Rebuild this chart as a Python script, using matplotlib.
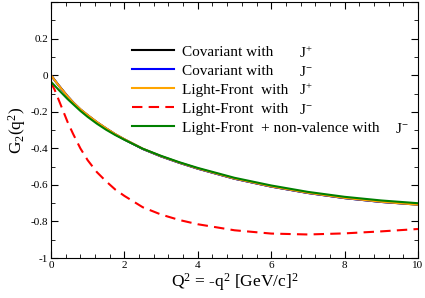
import matplotlib
matplotlib.use("Agg")
import matplotlib.pyplot as plt
from matplotlib.ticker import MultipleLocator, FuncFormatter

plt.rcParams['font.family'] = ['Liberation Serif', 'DejaVu Serif']
plt.rcParams['mathtext.fontset'] = 'custom'
plt.rcParams['mathtext.rm'] = 'Liberation Serif'
plt.rcParams['mathtext.it'] = 'Liberation Serif'

q2 = [0, 0.1, 0.2, 0.3, 0.45, 0.6, 0.8, 1.0, 1.25, 1.5, 1.75, 2.0, 2.5, 3.0, 3.5, 4, 5, 6, 7, 8, 9, 10]

cov_jplus = [0.0, -0.027, -0.053, -0.078, -0.115, -0.148, -0.187, -0.219, -0.257, -0.291, -0.323, -0.351, -0.403, -0.444, -0.479, -0.511, -0.566, -0.609, -0.644, -0.672, -0.693, -0.708]
cov_jminus = [0.0, -0.027, -0.053, -0.078, -0.115, -0.148, -0.187, -0.219, -0.257, -0.291, -0.323, -0.351, -0.403, -0.444, -0.479, -0.511, -0.566, -0.609, -0.644, -0.672, -0.693, -0.707]
lf_jplus = [0.0, -0.027, -0.053, -0.078, -0.115, -0.148, -0.186, -0.218, -0.256, -0.290, -0.322, -0.350, -0.402, -0.443, -0.478, -0.510, -0.565, -0.608, -0.643, -0.671, -0.692, -0.708]
lf_jminus = [-0.04, -0.08, -0.13, -0.18, -0.255, -0.32, -0.40, -0.465, -0.53, -0.58, -0.625, -0.66, -0.722, -0.762, -0.792, -0.815, -0.848, -0.866, -0.871, -0.865, -0.854, -0.841]
lf_nonval = [-0.036, -0.057, -0.078, -0.099, -0.130, -0.158, -0.195, -0.228, -0.265, -0.298, -0.327, -0.353, -0.402, -0.441, -0.476, -0.507, -0.561, -0.603, -0.638, -0.665, -0.685, -0.700]

labels = ['Covariant with', 'Covariant with', 'Light-Front  with', 'Light-Front  with',
          'Light-Front  + non-valence with']
currents = ['J$^{+}$', 'J$^{-}$', 'J$^{+}$', 'J$^{-}$', 'J$^{-}$']

fig = plt.figure(figsize=(4.25, 2.98), dpi=100)
ax = fig.add_axes([0.12, 0.134, 0.8635, 0.859])

ax.plot(q2, cov_jplus, color='black', lw=1.5, label=labels[0])
ax.plot(q2, cov_jminus, color='blue', lw=1.5, label=labels[1])
ax.plot(q2, lf_jplus, color='orange', lw=1.5, label=labels[2])
ax.plot(q2, lf_jminus, color='red', lw=1.5, ls=(0, (5, 3)), label=labels[3])
ax.plot(q2, lf_nonval, color='green', lw=1.5, label=labels[4])

ax.set_xlim(0, 10)
ax.set_ylim(-1, 0.4)
ax.xaxis.set_major_locator(MultipleLocator(2))
ax.xaxis.set_minor_locator(MultipleLocator(0.4))
ax.yaxis.set_major_locator(MultipleLocator(0.2))
ax.yaxis.set_minor_locator(MultipleLocator(0.1))

def fmt(v, pos):
    if abs(v - 0.4) < 1e-6:
        return ''
    if abs(v) < 1e-9:
        return '0'
    if abs(v - round(v)) < 1e-9:
        return '%d' % round(v)
    return ('%.1f' % v)

ax.xaxis.set_major_formatter(FuncFormatter(fmt))
ax.yaxis.set_major_formatter(FuncFormatter(fmt))
ax.tick_params(which='both', direction='in', top=True, right=True, labelsize=8, pad=2)
ax.tick_params(which='major', length=5)
ax.tick_params(which='minor', length=3)

ax.set_xlabel('Q$^2$ = -q$^2$ [GeV/c]$^2$', fontsize=12.5, labelpad=1)
ax.set_ylabel('G$_2$(q$^2$)', fontsize=12.5, labelpad=2)

leg = ax.legend(loc='upper left', bbox_to_anchor=(0.222, 0.833), frameon=False, fontsize=11,
                handlelength=2.75, handletextpad=0.5, labelspacing=0.35, borderpad=0,
                borderaxespad=0)

jx = [0.676, 0.676, 0.676, 0.676, 0.937]
jy = [0.783, 0.710, 0.637, 0.563, 0.488]
for x, y, t in zip(jx, jy, currents):
    ax.text(x, y, t, transform=ax.transAxes, fontsize=11, va='baseline', ha='left')

fig.savefig('out.png', dpi=100)
